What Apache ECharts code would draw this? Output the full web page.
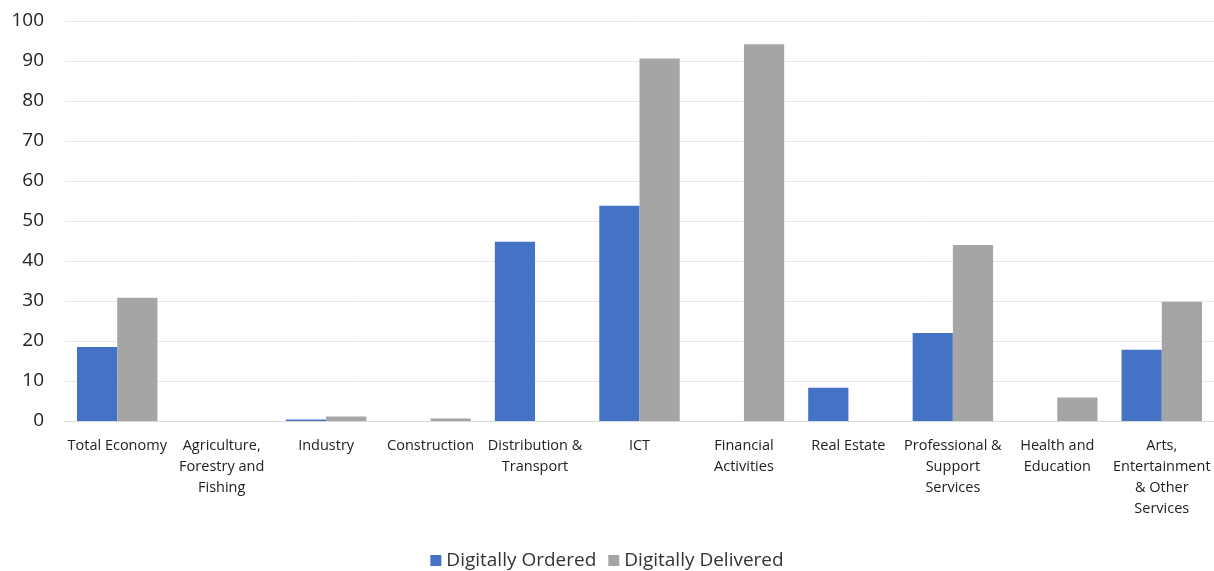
<!DOCTYPE html>
<html>
<head>
<meta charset="utf-8">
<script src="https://cdn.jsdelivr.net/npm/echarts@6/dist/echarts.min.js"></script>
<style>html,body{margin:0;padding:0;background:#fff;}#c{width:1214px;height:571px;}</style>
</head>
<body>
<div id="c"></div>
<script>
const categories = ["Total Economy", "Agriculture,\nForestry and\nFishing", "Industry", "Construction", "Distribution &\nTransport", "ICT", "Financial\nActivities", "Real Estate", "Professional &\nSupport\nServices", "Health and\nEducation", "Arts,\nEntertainment\n& Other\nServices"];
const digitallyOrdered = [18.5, 0, 0.4, 0, 44.8, 53.8, 0, 8.3, 22, 0, 17.8];
const digitallyDelivered = [30.8, 0, 1.1, 0.6, 0, 90.6, 94.2, 0, 44, 5.9, 29.8];
const yTicks = {min: 0, max: 100, interval: 10};

const chart = echarts.init(document.getElementById('c'));
chart.setOption({
  animation: false,
  backgroundColor: '#fff',
  grid: {left: 65, right: 0, top: 21, bottom: 150},
  legend: {
    bottom: -4, itemWidth: 11, itemHeight: 11, itemGap: 12,
    icon: 'rect',
    textStyle: {fontFamily: 'Open Sans', fontSize: 19, color: '#333'},
    data: ['Digitally Ordered', 'Digitally Delivered']
  },
  xAxis: {
    type: 'category', data: categories,
    axisLine: {lineStyle: {color: '#d9d9d9'}},
    axisTick: {show: false},
    axisLabel: {interval: 0, fontFamily: 'Open Sans', fontSize: 14.5, color: '#222', lineHeight: 21, margin: 14}
  },
  yAxis: {
    type: 'value', min: yTicks.min, max: yTicks.max, interval: yTicks.interval,
    axisLine: {show: false}, axisTick: {show: false},
    splitLine: {lineStyle: {color: '#e8e8e8'}},
    axisLabel: {fontFamily: 'Open Sans', fontSize: 19, color: '#222', margin: 21}
  },
  series: [
    {name: 'Digitally Ordered', type: 'bar', data: digitallyOrdered, itemStyle: {color: '#4472C4'}, barGap: '0%', barCategoryGap: '23%'},
    {name: 'Digitally Delivered', type: 'bar', data: digitallyDelivered, itemStyle: {color: '#A5A5A5'}, barGap: '0%', barCategoryGap: '23%'}
  ]
});
</script>
</body>
</html>
